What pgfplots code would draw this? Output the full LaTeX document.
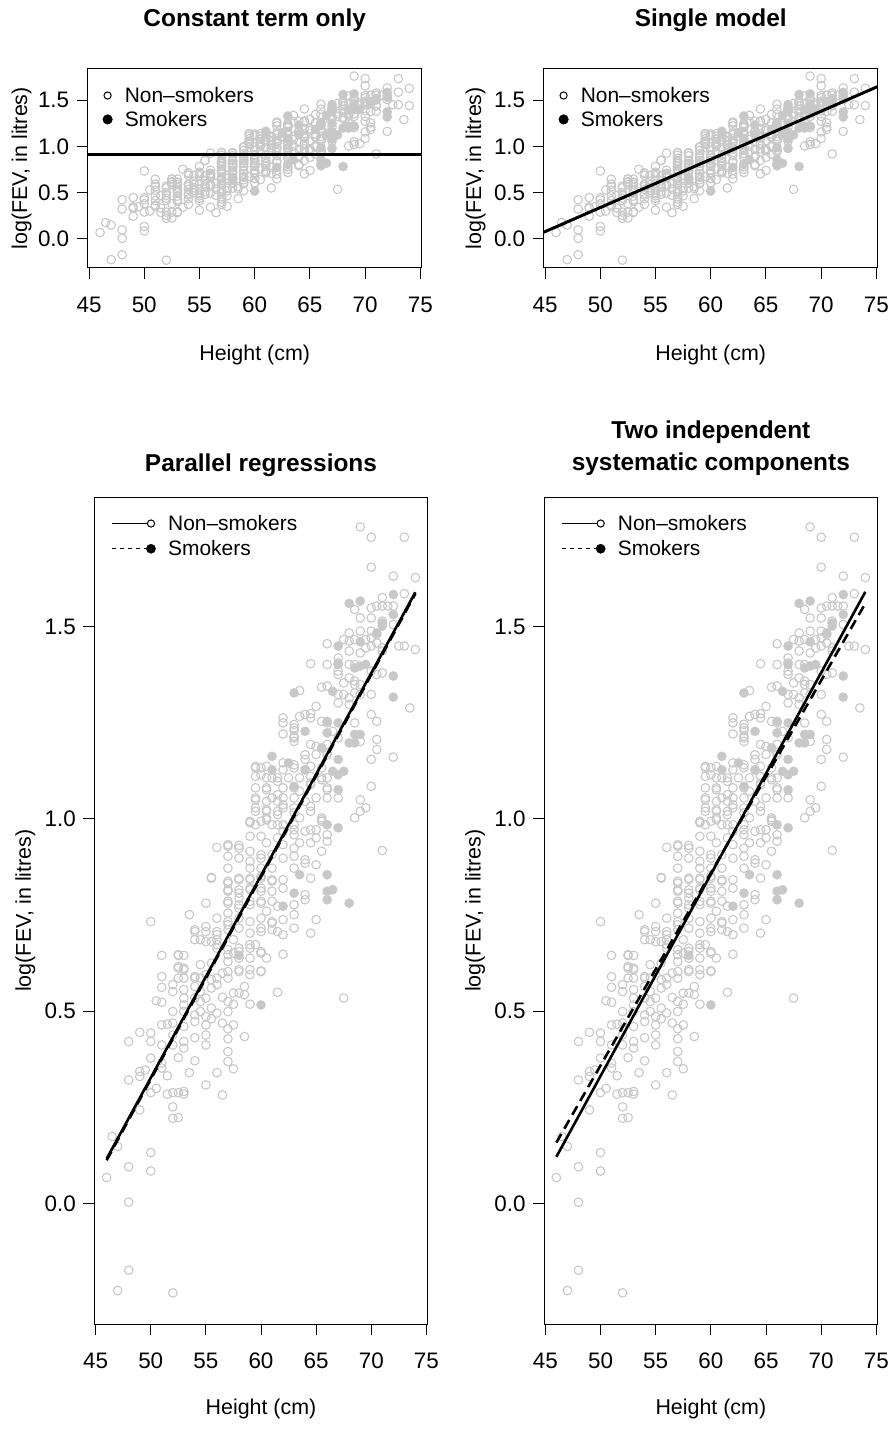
\documentclass[border=0pt]{standalone}
\usepackage{fontspec}
\setmainfont{Liberation Sans}
\usepackage{pgfplots}
\usepackage{pgfplotstable}
\pgfplotsset{compat=1.18}
\definecolor{ptgray}{RGB}{200,200,200}

\pgfplotstableread{
h v
69 1.760
70 1.733
73 1.733
70 1.655
72 1.632
74 1.628
73 1.586
71 1.576
70 1.549
71 1.554
72 1.554
69 1.523
70 1.523
71 1.515
68 1.484
69 1.489
70 1.489
70 1.471
70.5 1.458
73 1.450
74 1.441
66 1.456
68 1.463
70 1.450
67 1.419
68 1.437
69 1.432
71 1.437
64.5 1.404
66 1.402
68 1.402
70 1.385
70.5 1.376
71 1.380
67 1.385
68 1.367
68.5 1.359
69 1.350
63.5 1.334
65.5 1.343
67 1.324
68 1.315
69 1.324
70 1.324
67 1.302
68 1.298
73.5 1.289
65 1.293
64 1.272
62 1.263
62 1.250
63 1.246
64.5 1.274
65.5 1.254
66 1.250
70 1.272
70.5 1.254
62 1.221
63 1.230
66.5 1.228
69 1.202
70.5 1.207
70.5 1.181
63 1.215
63 1.202
64.5 1.194
66 1.194
67 1.211
62 1.146
63 1.141
64 1.155
65 1.168
66 1.172
70 1.155
72 1.161
59.5 1.133
60 1.133
62 1.128
63 1.133
64.5 1.137
65.5 1.133
59.5 1.111
60.5 1.107
61.5 1.107
62.5 1.107
63.5 1.107
64.5 1.094
65.5 1.102
66 1.107
59.5 1.081
60.5 1.081
62 1.081
64.5 1.089
66 1.081
70 1.085
59.5 1.055
61 1.055
61.5 1.046
62 1.037
63 1.055
64 1.046
65 1.055
66 1.055
67 1.055
69 1.050
69.5 1.029
69 1.020
68.5 1.003
59.5 1.029
60.5 1.020
61.5 1.020
62 1.029
63 1.029
63.5 1.003
64.5 1.020
65.5 1.003
65.5 0.994
59 0.994
60 0.994
60.5 1.003
61 0.985
62 0.985
63 0.985
63 0.959
64 0.968
64.5 0.972
65 0.951
59 0.955
60 0.955
60.5 0.938
61.5 0.951
62 0.933
63 0.924
63.5 0.938
64.5 0.938
65.5 0.916
66 0.942
71 0.918
56 0.926
57 0.933
58 0.931
57 0.903
59 0.916
60 0.898
61 0.907
62 0.898
63 0.903
64 0.894
65 0.881
57 0.872
59 0.872
60 0.872
61 0.872
63 0.872
64 0.885
55.5 0.848
57 0.838
58 0.846
59 0.846
60 0.846
61 0.838
62 0.842
64.5 0.846
57 0.812
58 0.807
59 0.820
60 0.812
61 0.812
62 0.820
64 0.803
55 0.781
57 0.786
58 0.777
59 0.786
60 0.786
61 0.786
63 0.777
64 0.790
50 0.733
53.5 0.751
56 0.742
57 0.733
58 0.742
59 0.733
60 0.742
61 0.729
62 0.738
63 0.751
65 0.738
54 0.707
55 0.707
56 0.699
57 0.712
58 0.716
60 0.707
61 0.712
62 0.699
63 0.716
64.5 0.703
54.5 0.686
55.5 0.681
56 0.673
57.5 0.686
56 0.664
57 0.647
57.5 0.651
58 0.664
59 0.664
59.5 0.673
58 0.638
59 0.638
60 0.651
60.5 0.638
62 0.648
51 0.645
52.5 0.645
53 0.645
54.5 0.621
55.5 0.625
57 0.629
58 0.608
59 0.608
60 0.605
52.5 0.616
53 0.612
52.5 0.586
53 0.586
54 0.590
54.5 0.586
55.5 0.582
56.5 0.599
57 0.586
56 0.569
51 0.590
51 0.562
52 0.569
52 0.551
53 0.556
54 0.564
54.5 0.551
55.5 0.560
56.5 0.536
57.5 0.547
58 0.547
58.5 0.564
58.5 0.543
61.5 0.549
50.5 0.527
51 0.523
53 0.534
53 0.516
54 0.534
54.5 0.525
55 0.534
55.5 0.508
57 0.525
57.5 0.518
59 0.518
67.5 0.534
52 0.499
53 0.499
54 0.490
54.5 0.499
55 0.486
55.5 0.480
56 0.495
57 0.499
51 0.464
51.5 0.466
52 0.469
53 0.460
54 0.473
55 0.464
56.5 0.469
57.5 0.464
57 0.454
49 0.445
50 0.443
48 0.421
50 0.421
51 0.412
52 0.438
52 0.412
53 0.421
53 0.404
54 0.431
55 0.438
55 0.412
57 0.428
58.5 0.434
50 0.378
51 0.365
51 0.352
52.5 0.379
54 0.371
57 0.395
57 0.369
57.5 0.350
49 0.343
49 0.330
49.5 0.347
48 0.321
51.5 0.332
53.5 0.340
56 0.340
55 0.308
50 0.288
50.5 0.299
51.5 0.284
52 0.288
52.5 0.288
53 0.291
53 0.284
56.5 0.282
49 0.243
52 0.251
52 0.221
52.5 0.223
46.5 0.174
47 0.148
46 0.067
48 0.095
50 0.132
50 0.084
48 0.003
48 -0.174
47 -0.227
52 -0.233
63 1.237
63 1.211
63.5 1.267
64.5 1.263
59.5 1.137
60.5 1.137
60 1.115
61 1.107
61.5 1.098
64 1.128
60.5 1.076
61.5 1.063
62 1.055
63 1.081
63.5 1.072
59.5 1.050
60.5 1.046
59.5 1.020
60.5 1.024
61.5 1.011
63 1.016
59 0.990
59.5 0.985
60.5 0.998
61.5 0.985
62 0.968
63 0.972
65 0.972
66 0.959
65.5 0.998
64.5 1.033
65 1.189
64 1.167
66 1.167
64.5 1.111
65.5 1.107
66 1.076
57 0.929
58 0.924
58 0.898
59 0.890
60 0.907
55.5 0.846
57 0.833
57 0.816
58 0.842
58 0.816
58 0.794
59 0.842
59 0.816
60 0.851
60 0.820
61 0.842
57 0.781
57 0.755
58 0.768
59 0.777
60 0.781
60.5 0.760
61.5 0.773
54 0.712
55 0.720
56 0.707
57 0.725
59 0.703
60 0.716
61 0.733
61.5 0.707
54 0.686
55 0.681
56 0.686
57 0.660
58 0.655
59 0.673
60 0.655
52.5 0.647
52.5 0.612
53 0.608
54 0.586
55 0.595
56 0.586
57 0.603
58 0.603
59 0.595
60 0.603
68.5 1.545
70.5 1.554
71.5 1.554
72 1.506
67.5 1.467
68.5 1.467
69.5 1.467
70.5 1.480
69.5 1.445
71 1.445
72.5 1.450
67 1.406
68.5 1.402
67 1.376
67.5 1.354
68.5 1.350
66 1.346
67.5 1.324
68.5 1.328
68.5 1.250
}\nonsmk

\pgfplotstableread{
h v
72 1.584
68 1.561
69 1.567
72 1.532
71 1.502
70.5 1.484
67 1.450
69 1.461
67 1.402
68.5 1.393
69 1.398
69.5 1.402
72 1.372
63 1.328
66.5 1.332
72 1.317
64 1.228
66 1.224
69 1.220
68 1.198
68.5 1.198
65.5 1.185
61 1.163
67 1.155
61 1.128
64 1.128
66.5 1.124
67.5 1.124
67 1.115
63 1.085
67 1.076
66 0.985
67 0.977
63.5 0.855
66 0.855
63 0.807
66 0.812
66.5 0.816
62 0.773
66 0.790
68 0.781
60 0.516
62.5 1.146
58 0.645
71 1.510
66 1.254
67 1.250
68.5 1.220
}\smk

\pgfplotsset{
  fevaxis/.style={
    scale only axis,
    clip mode=individual,
    xmin=44.88, xmax=75.12,
    ymin=-0.314, ymax=1.837,
    xtick={45,50,55,60,65,70,75},
    ytick={0,0.5,1,1.5},
    tick align=outside,
    xtick pos=left, ytick pos=left,
    major tick length=11bp,
    major tick style={black, line width=1bp},
    axis line style={black, line width=1bp},
    /pgf/number format/assume math mode=true,
    yticklabel={\pgfmathprintnumber[fixed,fixed zerofill,precision=1]{\tick}},
    xticklabel={\pgfmathprintnumber[fixed,precision=0]{\tick}},
    tick label style={font=\fontsize{22.5}{27}\selectfont},
    xticklabel style={anchor=base},
    xticklabel shift=33.5bp,
    yticklabel shift=4bp,
    xlabel={Height (cm)},
    ylabel={log(FEV, in litres)},
    xlabel style={at={(axis description cs:0.5,0)}, anchor=center, font=\fontsize{21.5}{26}\selectfont},
    ylabel style={anchor=center, rotate=0, font=\fontsize{21.5}{26}\selectfont},
    title style={at={(axis description cs:0.5,1)}, anchor=center, align=center, font=\bfseries\fontsize{24.5}{32}\selectfont},
    legend cell align=left,
    legend style={draw=none, fill=none, inner sep=0pt, anchor=north west,
      font=\fontsize{21}{25}\selectfont},
  },
  ns/.style={only marks, mark=o, mark size=4.3bp, color=ptgray, mark options={line width=1.1bp}, forget plot},
  sm/.style={only marks, mark=*, mark size=4.6bp, color=ptgray, mark options={fill=ptgray, draw=ptgray}, forget plot},
}

\begin{document}
\begin{tikzpicture}
\useasboundingbox (0,0) rectangle (894bp,1443bp);

% Top left
\begin{axis}[fevaxis, at={(87.7bp,1175.3bp)}, anchor=south west,
  width=334bp, height=198.7bp,
  title={Constant term only}, title style={yshift=42.5bp},
  xlabel style={yshift=-87bp},
  ylabel style={at={([xshift=-66bp]axis description cs:0,0.5)}},
  legend style={at={([xshift=14.7bp,yshift=-16bp]axis description cs:0,1)}, row sep=3.3bp},
  ]
\addplot[ns] table[x=h,y=v]{\nonsmk};
\addplot[sm] table[x=h,y=v]{\smk};
\addplot[black, line width=3bp, forget plot] coordinates {(44.88,0.914) (75.12,0.914)};
\addlegendimage{legend image code/.code={\draw[black,line width=1bp,fill=white] (0bp,0bp) circle (3.6bp); \path (15bp,0bp);}}
\addlegendentry{Non–smokers}
\addlegendimage{legend image code/.code={\fill[black] (0bp,0bp) circle (4.8bp); \path (15bp,0bp);}}
\addlegendentry{Smokers}
\end{axis}

% Top right
\begin{axis}[fevaxis, at={(543.7bp,1175.3bp)}, anchor=south west,
  width=334bp, height=198.7bp,
  title={Single model}, title style={yshift=42.5bp},
  xlabel style={yshift=-87bp},
  ylabel style={at={([xshift=-68bp]axis description cs:0,0.5)}},
  legend style={at={([xshift=14.7bp,yshift=-16bp]axis description cs:0,1)}, row sep=3.3bp},
  ]
\addplot[ns] table[x=h,y=v]{\nonsmk};
\addplot[sm] table[x=h,y=v]{\smk};
\addplot[black, line width=3bp, forget plot] coordinates {(44.88,0.070) (75.12,1.647)};
\addlegendimage{legend image code/.code={\draw[black,line width=1bp,fill=white] (0bp,0bp) circle (3.6bp); \path (15bp,0bp);}}
\addlegendentry{Non–smokers}
\addlegendimage{legend image code/.code={\fill[black] (0bp,0bp) circle (4.8bp); \path (15bp,0bp);}}
\addlegendentry{Smokers}
\end{axis}

% Bottom left
\begin{axis}[fevaxis, at={(94.3bp,119bp)}, anchor=south west,
  width=333.4bp, height=826.7bp,
  title={Parallel regressions}, title style={yshift=26bp},
  xlabel style={yshift=-85bp},
  ylabel style={at={([xshift=-69bp]axis description cs:0,0.5)}},
  legend style={at={([xshift=17bp,yshift=-15.7bp]axis description cs:0,1)}, row sep=4.6bp},
  ]
\addplot[ns] table[x=h,y=v]{\nonsmk};
\addplot[sm] table[x=h,y=v]{\smk};
\addplot[black, line width=2.6bp, dash pattern=on 10bp off 6bp, forget plot] coordinates {(46,0.112) (74,1.586)};
\addplot[black, line width=2.6bp, forget plot] coordinates {(46,0.116) (74,1.590)};
\addlegendimage{legend image code/.code={\draw[black,line width=1bp] (0bp,0bp) -- (35bp,0bp); \draw[black,line width=1bp,fill=white] (39bp,0bp) circle (3.6bp); \path (54bp,0bp);}}
\addlegendentry{Non–smokers}
\addlegendimage{legend image code/.code={\draw[black,line width=1bp,dash pattern=on 4bp off 4bp] (0bp,0bp) -- (37bp,0bp); \fill[black] (39bp,0bp) circle (4.6bp); \path (54bp,0bp);}}
\addlegendentry{Smokers}
\end{axis}

% Bottom right
\begin{axis}[fevaxis, at={(544bp,119bp)}, anchor=south west,
  width=333.7bp, height=826.7bp,
  title={Two independent\\systematic components}, title style={yshift=43bp},
  xlabel style={yshift=-85bp},
  ylabel style={at={([xshift=-69bp]axis description cs:0,0.5)}},
  legend style={at={([xshift=17bp,yshift=-15.7bp]axis description cs:0,1)}, row sep=4.6bp},
  ]
\addplot[ns] table[x=h,y=v]{\nonsmk};
\addplot[sm] table[x=h,y=v]{\smk};
\addplot[black, line width=2.6bp, forget plot] coordinates {(46,0.121) (74,1.591)};
\addplot[black, line width=2.6bp, dash pattern=on 10bp off 6bp, forget plot] coordinates {(46,0.158) (74,1.561)};
\addlegendimage{legend image code/.code={\draw[black,line width=1bp] (0bp,0bp) -- (35bp,0bp); \draw[black,line width=1bp,fill=white] (39bp,0bp) circle (3.6bp); \path (54bp,0bp);}}
\addlegendentry{Non–smokers}
\addlegendimage{legend image code/.code={\draw[black,line width=1bp,dash pattern=on 4bp off 4bp] (0bp,0bp) -- (37bp,0bp); \fill[black] (39bp,0bp) circle (4.6bp); \path (54bp,0bp);}}
\addlegendentry{Smokers}
\end{axis}
\end{tikzpicture}
\end{document}
